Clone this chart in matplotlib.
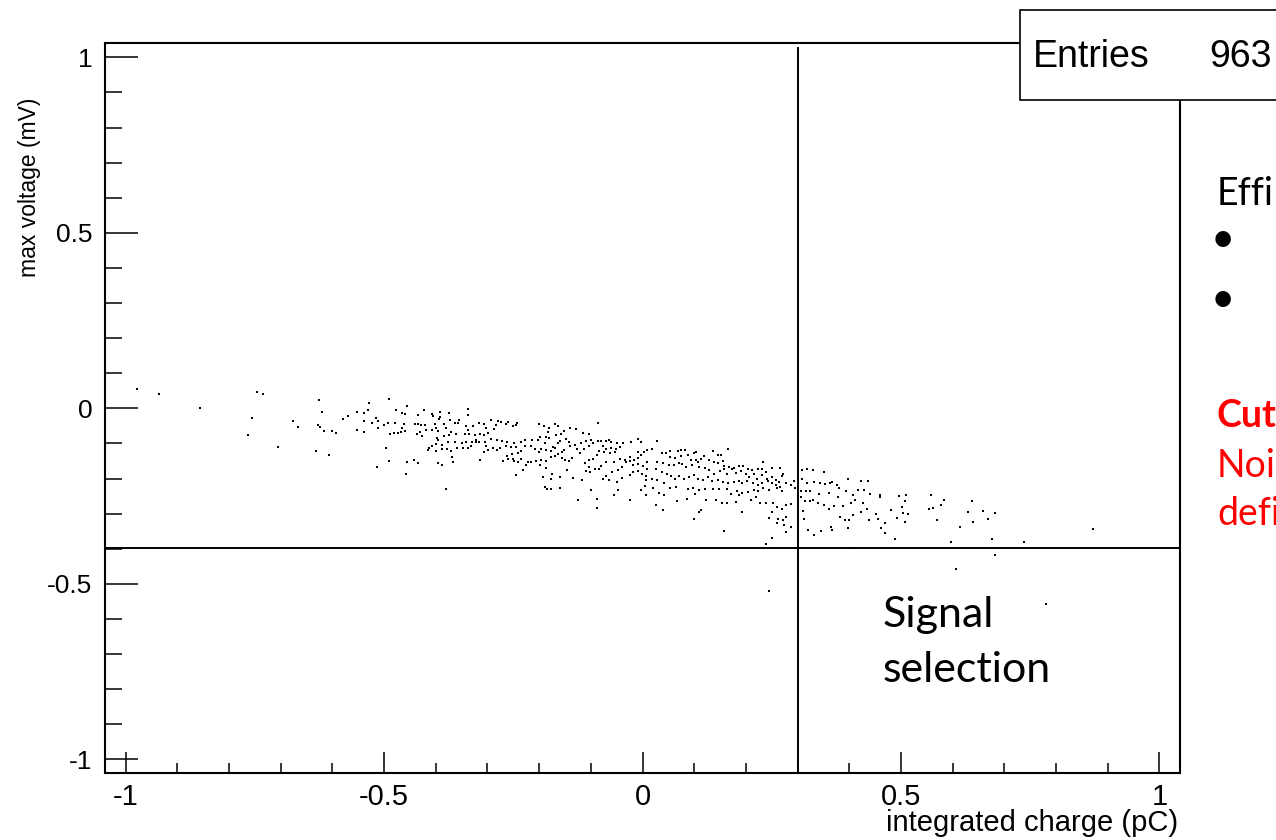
import numpy as np
import matplotlib
matplotlib.use("Agg")
import matplotlib.pyplot as plt
from matplotlib.patches import Rectangle
from matplotlib.ticker import MultipleLocator

# (integrated charge [pC], max voltage [mV]), by region
tail_left = [
    (-0.978, 0.056), (-0.936, 0.041), (-0.856, 0.002), (-0.746, 0.046), (-0.734, 0.042),
    (-0.756, -0.028), (-0.764, -0.077), (-0.706, -0.110), (-0.677, -0.037), (-0.667, -0.054),
    (-0.632, -0.121), (-0.607, -0.132), (-0.626, 0.024), (-0.620, -0.009), (-0.628, -0.047),
    (-0.624, -0.053), (-0.617, -0.065), (-0.601, -0.065), (-0.594, -0.071), (-0.580, -0.030),
    (-0.569, -0.022), (-0.553, -0.011), (-0.539, -0.012), (-0.531, -0.004), (-0.530, 0.014),
    (-0.553, -0.062), (-0.538, -0.068), (-0.539, -0.037), (-0.524, -0.042), (-0.516, -0.028),
    (-0.512, -0.037), (-0.512, -0.057), (-0.514, -0.168),
]

band_left = [
    (-0.490, 0.027), (-0.456, 0.008), (-0.476, -0.006), (-0.466, -0.013), (-0.459, -0.015),
    (-0.423, -0.005), (-0.434, -0.020), (-0.408, -0.017), (-0.405, -0.022), (-0.392, -0.011),
    (-0.374, -0.014), (-0.392, -0.025), (-0.338, -0.002), (-0.338, -0.018), (-0.356, -0.032),
    (-0.372, -0.032), (-0.394, -0.029), (-0.501, -0.047), (-0.492, -0.043), (-0.478, -0.041),
    (-0.465, -0.055), (-0.461, -0.046), (-0.480, -0.069), (-0.488, -0.074), (-0.473, -0.069),
    (-0.468, -0.066), (-0.459, -0.065), (-0.441, -0.044), (-0.435, -0.046), (-0.428, -0.047),
    (-0.421, -0.047), (-0.402, -0.045), (-0.385, -0.046), (-0.362, -0.041), (-0.357, -0.043),
    (-0.380, -0.055), (-0.400, -0.055), (-0.407, -0.063), (-0.418, -0.063), (-0.430, -0.068),
    (-0.437, -0.073), (-0.427, -0.078), (-0.395, -0.065), (-0.370, -0.068), (-0.360, -0.073),
    (-0.375, -0.076), (-0.385, -0.080), (-0.398, -0.084), (-0.396, -0.089), (-0.341, -0.051),
    (-0.327, -0.049), (-0.338, -0.061), (-0.316, -0.043), (-0.307, -0.045), (-0.294, -0.032),
    (-0.280, -0.035), (-0.273, -0.040), (-0.264, -0.044), (-0.250, -0.049), (-0.244, -0.047),
    (-0.242, -0.043), (-0.261, -0.039), (-0.283, -0.047), (-0.303, -0.055), (-0.288, -0.060),
    (-0.298, -0.070), (-0.307, -0.076), (-0.315, -0.074), (-0.325, -0.076), (-0.335, -0.074),
    (-0.344, -0.072), (-0.322, -0.091), (-0.330, -0.095), (-0.341, -0.095), (-0.350, -0.099),
    (-0.363, -0.097), (-0.377, -0.096), (-0.387, -0.104), (-0.400, -0.102), (-0.407, -0.106),
    (-0.414, -0.112), (-0.415, -0.119), (-0.399, -0.122), (-0.387, -0.115), (-0.378, -0.117),
    (-0.371, -0.121), (-0.369, -0.138), (-0.359, -0.112), (-0.348, -0.114), (-0.337, -0.114),
    (-0.332, -0.107), (-0.323, -0.097), (-0.316, -0.095), (-0.305, -0.097), (-0.303, -0.108),
    (-0.306, -0.124), (-0.298, -0.119), (-0.289, -0.114), (-0.282, -0.119), (-0.275, -0.114),
    (-0.264, -0.108), (-0.255, -0.111), (-0.245, -0.110), (-0.249, -0.098), (-0.263, -0.095),
    (-0.272, -0.093), (-0.281, -0.090), (-0.294, -0.088), (-0.236, -0.096), (-0.227, -0.091),
    (-0.213, -0.089), (-0.202, -0.090), (-0.198, -0.081), (-0.187, -0.082), (-0.180, -0.084),
    (-0.189, -0.100), (-0.197, -0.116), (-0.200, -0.123), (-0.208, -0.115), (-0.216, -0.108),
    (-0.227, -0.108), (-0.235, -0.121), (-0.241, -0.127), (-0.253, -0.131), (-0.263, -0.137),
    (-0.261, -0.145), (-0.269, -0.151), (-0.249, -0.151), (-0.251, -0.143), (-0.240, -0.152),
    (-0.235, -0.143), (-0.226, -0.161), (-0.215, -0.153), (-0.206, -0.151), (-0.196, -0.146),
    (-0.186, -0.151), (-0.177, -0.140), (-0.169, -0.137), (-0.177, -0.122), (-0.186, -0.119),
    (-0.173, -0.109), (-0.170, -0.114), (-0.164, -0.100), (-0.160, -0.093), (-0.157, -0.073),
    (-0.151, -0.064), (-0.169, -0.044), (-0.164, -0.049), (-0.200, -0.045), (-0.191, -0.051),
    (-0.183, -0.066), (-0.180, -0.057), (-0.167, -0.076), (-0.314, -0.148), (-0.367, -0.153),
    (-0.387, -0.161), (-0.396, -0.155), (-0.434, -0.156), (-0.443, -0.146), (-0.456, -0.153),
    (-0.457, -0.187), (-0.490, -0.150), (-0.496, -0.114), (-0.381, -0.231), (-0.222, -0.152),
    (-0.232, -0.176), (-0.245, -0.191), (-0.199, -0.162), (-0.187, -0.171), (-0.192, -0.197),
    (-0.188, -0.224), (-0.184, -0.229), (-0.177, -0.229), (-0.160, -0.227), (-0.178, -0.200),
    (-0.175, -0.186), (-0.160, -0.195), (-0.146, -0.176),
]

band_mid = [
    (-0.140, -0.056), (-0.128, -0.060), (-0.115, -0.070), (-0.103, -0.074), (-0.086, -0.043),
    (-0.100, -0.089), (-0.109, -0.094), (-0.119, -0.099), (-0.131, -0.104), (-0.142, -0.097),
    (-0.148, -0.087), (-0.140, -0.108), (-0.151, -0.119), (-0.156, -0.125), (-0.164, -0.131),
    (-0.156, -0.141), (-0.149, -0.148), (-0.143, -0.150), (-0.136, -0.142), (-0.126, -0.115),
    (-0.120, -0.126), (-0.113, -0.115), (-0.103, -0.108), (-0.096, -0.100), (-0.086, -0.093),
    (-0.080, -0.093), (-0.070, -0.093), (-0.064, -0.089), (-0.060, -0.096), (-0.050, -0.099),
    (-0.037, -0.098), (-0.022, -0.097), (-0.009, -0.087), (-0.002, -0.096), (-0.077, -0.106),
    (-0.070, -0.117), (-0.061, -0.114), (-0.052, -0.115), (-0.044, -0.110), (-0.054, -0.125),
    (-0.063, -0.127), (-0.074, -0.123), (-0.084, -0.121), (-0.088, -0.133), (-0.096, -0.144),
    (-0.104, -0.148), (-0.112, -0.155), (-0.104, -0.167), (-0.110, -0.178), (-0.101, -0.180),
    (-0.092, -0.172), (-0.084, -0.174), (-0.081, -0.164), (-0.070, -0.153), (-0.055, -0.152),
    (-0.043, -0.145), (-0.034, -0.147), (-0.025, -0.151), (-0.017, -0.148), (-0.009, -0.142),
    (-0.003, -0.134), (0.003, -0.125), (0.009, -0.119), (-0.008, -0.123), (-0.024, -0.138),
    (-0.032, -0.153), (-0.039, -0.167), (-0.048, -0.177), (-0.059, -0.182), (-0.070, -0.194),
    (-0.077, -0.200), (-0.064, -0.203), (-0.050, -0.210), (-0.039, -0.198), (-0.025, -0.190),
    (-0.018, -0.182), (-0.008, -0.178), (-0.001, -0.186), (0.006, -0.193), (0.008, -0.174),
    (0.000, -0.163), (0.009, -0.152), (-0.008, -0.159), (-0.019, -0.161), (0.007, -0.205),
    (0.004, -0.221), (-0.003, -0.233), (0.007, -0.248), (-0.024, -0.260), (-0.048, -0.234),
    (-0.056, -0.247), (-0.089, -0.258), (-0.088, -0.285), (-0.124, -0.260), (-0.099, -0.233),
    (-0.117, -0.205), (-0.135, -0.198),
    (0.028, -0.093), (0.019, -0.117), (0.037, -0.126), (0.045, -0.128), (0.053, -0.122),
    (0.068, -0.121), (0.075, -0.119), (0.082, -0.120), (0.100, -0.126), (0.104, -0.124),
    (0.136, -0.122), (0.146, -0.132), (0.151, -0.132), (0.166, -0.117), (0.053, -0.138),
    (0.062, -0.141), (0.074, -0.136), (0.089, -0.132), (0.093, -0.146), (0.104, -0.148),
    (0.113, -0.145), (0.119, -0.136), (0.129, -0.147), (0.138, -0.152), (0.146, -0.157),
    (0.155, -0.149), (0.158, -0.165), (0.168, -0.166), (0.177, -0.170), (0.186, -0.163),
    (0.194, -0.165), (0.204, -0.172), (0.212, -0.176), (0.223, -0.174), (0.234, -0.154),
    (0.231, -0.173), (0.239, -0.181), (0.251, -0.169), (0.267, -0.170), (0.272, -0.188),
    (0.029, -0.152), (0.039, -0.157), (0.051, -0.162), (0.061, -0.160), (0.070, -0.155),
    (0.077, -0.159), (0.085, -0.168), (0.096, -0.160), (0.107, -0.152), (0.110, -0.167),
    (0.121, -0.170), (0.129, -0.176), (0.139, -0.186), (0.149, -0.178), (0.157, -0.172),
    (0.164, -0.186), (0.174, -0.174), (0.180, -0.183), (0.190, -0.179), (0.200, -0.186),
    (0.207, -0.195), (0.216, -0.186), (0.222, -0.200), (0.232, -0.190), (0.241, -0.202),
    (0.251, -0.196), (0.259, -0.203), (0.265, -0.209), (0.269, -0.193), (0.027, -0.173),
    (0.037, -0.181), (0.048, -0.186), (0.056, -0.193), (0.062, -0.200), (0.071, -0.194),
    (0.081, -0.200), (0.090, -0.195), (0.100, -0.190), (0.107, -0.200), (0.117, -0.205),
    (0.126, -0.195), (0.135, -0.207), (0.146, -0.203), (0.155, -0.210), (0.166, -0.214),
    (0.177, -0.209), (0.187, -0.207), (0.193, -0.214), (0.202, -0.208), (0.214, -0.214),
    (0.224, -0.219), (0.232, -0.214), (0.242, -0.207), (0.251, -0.212), (0.258, -0.218),
    (0.267, -0.224), (0.277, -0.214), (0.287, -0.219), (0.293, -0.207), (0.296, -0.228),
    (0.019, -0.200), (0.028, -0.205), (0.042, -0.214), (0.053, -0.226), (0.064, -0.224),
    (0.088, -0.231), (0.098, -0.228), (0.109, -0.234), (0.120, -0.229), (0.136, -0.231),
    (0.148, -0.229), (0.164, -0.231), (0.172, -0.243), (0.183, -0.236), (0.193, -0.241),
    (0.204, -0.237), (0.216, -0.233), (0.224, -0.235), (0.234, -0.228), (0.245, -0.233),
    (0.261, -0.228), (0.269, -0.235), (0.021, -0.228), (0.032, -0.241), (0.042, -0.247),
    (0.066, -0.264), (0.087, -0.257), (0.101, -0.244), (0.122, -0.262), (0.142, -0.260),
    (0.153, -0.269), (0.164, -0.269), (0.180, -0.266), (0.187, -0.247), (0.209, -0.262),
    (0.219, -0.252), (0.228, -0.270), (0.238, -0.269), (0.253, -0.271), (0.260, -0.282),
    (0.269, -0.288), (0.277, -0.276), (0.287, -0.273), (0.026, -0.276), (0.040, -0.290),
    (0.100, -0.316), (0.113, -0.290), (0.110, -0.296), (0.157, -0.350), (0.192, -0.294),
    (0.251, -0.295), (0.245, -0.312), (0.262, -0.314), (0.271, -0.319), (0.278, -0.309),
    (0.288, -0.338), (0.277, -0.353), (0.251, -0.368), (0.238, -0.387), (0.274, -0.333),
    (0.261, -0.328), (0.245, -0.521),
]

band_right = [
    (0.309, -0.176), (0.319, -0.174), (0.329, -0.176), (0.352, -0.181), (0.308, -0.200),
    (0.318, -0.212), (0.332, -0.209), (0.343, -0.214), (0.354, -0.216), (0.362, -0.212),
    (0.367, -0.209), (0.376, -0.219), (0.397, -0.200), (0.423, -0.207), (0.437, -0.206),
    (0.307, -0.235), (0.316, -0.235), (0.324, -0.235), (0.342, -0.244), (0.360, -0.241),
    (0.380, -0.228), (0.393, -0.235), (0.407, -0.247), (0.416, -0.233), (0.428, -0.233),
    (0.307, -0.252), (0.315, -0.265), (0.325, -0.264), (0.329, -0.262), (0.340, -0.271),
    (0.351, -0.274), (0.361, -0.288), (0.370, -0.277), (0.378, -0.252), (0.387, -0.279),
    (0.403, -0.271), (0.412, -0.262), (0.427, -0.269), (0.435, -0.288), (0.451, -0.300),
    (0.455, -0.316), (0.311, -0.292), (0.313, -0.315), (0.383, -0.309), (0.391, -0.319),
    (0.399, -0.317), (0.408, -0.304), (0.422, -0.295), (0.438, -0.319), (0.365, -0.338),
    (0.367, -0.347), (0.346, -0.349), (0.320, -0.347), (0.331, -0.361), (0.397, -0.342),
    (0.407, -0.399), (0.441, -0.245),
]

tail_right = [
    (0.459, -0.246), (0.459, -0.252), (0.496, -0.249), (0.510, -0.246), (0.508, -0.264),
    (0.503, -0.281), (0.505, -0.297), (0.514, -0.302), (0.508, -0.324), (0.492, -0.312),
    (0.480, -0.290), (0.470, -0.328), (0.462, -0.342), (0.470, -0.355), (0.488, -0.373),
    (0.559, -0.246), (0.584, -0.261), (0.578, -0.274), (0.554, -0.288), (0.562, -0.283),
    (0.569, -0.317), (0.638, -0.264), (0.630, -0.296), (0.639, -0.323), (0.659, -0.293),
    (0.669, -0.316), (0.683, -0.298), (0.615, -0.338), (0.597, -0.381), (0.676, -0.373),
    (0.738, -0.381), (0.872, -0.345), (0.682, -0.419), (0.607, -0.458), (0.780, -0.558),
]

x_cut = 0.3      # pC
y_cut = -0.397   # mV
entries = 963

pts = np.array(tail_left + band_left + band_mid + band_right + tail_right)

W, H = 1276, 840
fig = plt.figure(figsize=(W / 100, H / 100), dpi=100)
ax = fig.add_axes([105 / W, 1 - 773 / H, 1075 / W, 730 / H])

ax.scatter(pts[:, 0], pts[:, 1], s=4.2, marker='s', c='black', linewidths=0, zorder=3)
ax.axvline(x_cut, ymax=0.993, color='black', lw=1.4)
ax.axhline(y_cut, color='black', lw=1.4)

ax.set_xlim(-1.04, 1.04)
ax.set_ylim(-1.039, 1.041)
ax.xaxis.set_major_locator(MultipleLocator(0.5))
ax.xaxis.set_minor_locator(MultipleLocator(0.1))
ax.yaxis.set_major_locator(MultipleLocator(0.5))
ax.yaxis.set_minor_locator(MultipleLocator(0.1))
ax.xaxis.set_major_formatter(lambda v, p: f"{v:g}")
ax.yaxis.set_major_formatter(lambda v, p: f"{v:g}")

ax.tick_params(axis='x', which='major', direction='in', length=15, width=1.1, pad=7,
               labelsize=21, top=False)
ax.tick_params(axis='x', which='minor', direction='in', length=7.5, width=1.1, top=False)
ax.tick_params(axis='y', which='major', direction='in', length=24, width=1.1, pad=9,
               labelsize=19, right=False)
ax.tick_params(axis='y', which='minor', direction='in', length=12, width=1.1, right=False)
for lab in ax.get_xticklabels() + ax.get_yticklabels():
    lab.set_family('Liberation Sans')
for sp in ax.spines.values():
    sp.set_linewidth(1.5)

fig.text(1178 / W, 1 - 823 / H, 'integrated charge (pC)', ha='right', va='center',
         fontsize=21, family='Liberation Sans')
fig.text(30 / W, 1 - 98 / H, 'max voltage (mV)', rotation=90, ha='center', va='top',
         fontsize=16.5, family='Liberation Sans')

# stats box (cut by the slide edge)
fig.patches.append(Rectangle((1020 / W, 1 - 100 / H), 300 / W, 90 / H, transform=fig.transFigure,
                             facecolor='white', edgecolor='black', lw=1.2, zorder=5))
fig.text(1033 / W, 1 - 57 / H, 'Entries', ha='left', va='center', fontsize=27,
         family='Liberation Sans', zorder=6)
fig.text(1209 / W, 1 - 57 / H, f'{entries}', ha='left', va='center', fontsize=27,
         family='Liberation Sans', zorder=6)

# slide annotations
fig.text(883 / W, 1 - 627 / H, 'Signal', ha='left', va='baseline', fontsize=31, family='Lato')
fig.text(883 / W, 1 - 682 / H, 'selection', ha='left', va='baseline', fontsize=31, family='Lato')
fig.text(1217 / W, 1 - 205 / H, 'Effi', ha='left', va='baseline', fontsize=27, family='Lato')
fig.text(1223 / W, 1 - 240 / H, '\u2022', ha='center', va='center', fontsize=30, family='Lato')
fig.text(1223 / W, 1 - 300 / H, '\u2022', ha='center', va='center', fontsize=30, family='Lato')
fig.text(1217 / W, 1 - 427 / H, 'Cut', ha='left', va='baseline', fontsize=27, family='Lato',
         weight='bold', color='#ff0000')
fig.text(1217 / W, 1 - 477 / H, 'Noi', ha='left', va='baseline', fontsize=27, family='Lato',
         color='#ff0000')
fig.text(1217 / W, 1 - 525 / H, 'defi', ha='left', va='baseline', fontsize=27, family='Lato',
         color='#ff0000')

fig.savefig('out.png', dpi=100)
